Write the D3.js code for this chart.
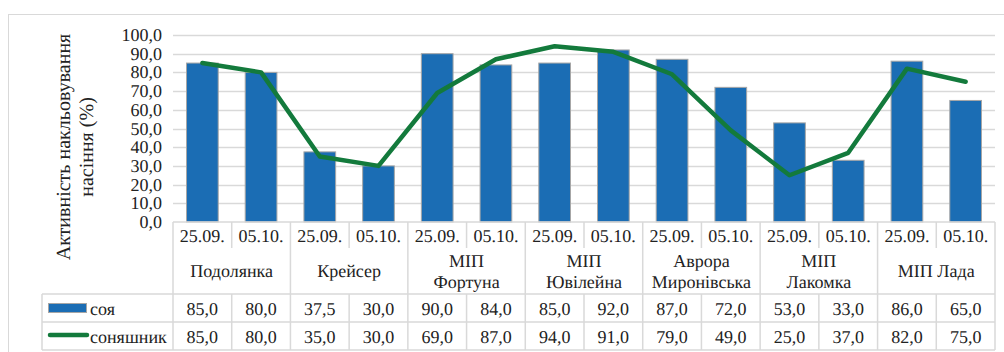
<!DOCTYPE html>
<html>
<head>
<meta charset="utf-8">
<script src="https://cdn.jsdelivr.net/npm/d3@7"></script>
<style>
  body { margin: 0; background: #fff; }
  text { text-rendering: geometricPrecision; }
</style>
</head>
<body>
<svg id="chart" width="1004" height="352"></svg>
<script>
// data
const groups = [["Подолянка"], ["Крейсер"], ["МІП", "Фортуна"], ["МІП", "Ювілейна"],
                ["Аврора", "Миронівська"], ["МІП", "Лакомка"], ["МІП Лада"]];
const dates = ["25.09.", "05.10."];
const soy = [85, 80, 37.5, 30, 90, 84, 85, 92, 87, 72, 53, 33, 86, 65];
const sunflower = [85, 80, 35, 30, 69, 87, 94, 91, 79, 49, 25, 37, 82, 75];
const seriesNames = ["соя", "соняшник"];
const yTicks = [0, 10, 20, 30, 40, 50, 60, 70, 80, 90, 100];

const barColor = "#1b6db4";
const lineColor = "#137a3c";
const gridColor = "#d9d9d9";
const font = "'Liberation Serif'";

const plotLeft = 173, plotRight = 995, plotTop = 35, plotBottom = 222;
const dateRowH = 26, catRowH = 46, legRowH = 28, tableLeft = 42;

const svg = d3.select("#chart");
const fmt = v => d3.format(".1f")(v).replace(".", ",");

// category index per point
const idx = d3.range(soy.length);
const x = d3.scaleBand().domain(idx).range([plotLeft, plotRight]).paddingInner(0.46).paddingOuter(0.23);
const step = x.step();
const cx = i => x(i) + x.bandwidth() / 2;
const y = d3.scaleLinear().domain([0, 100]).range([plotBottom, plotTop]);

// outer chart border
svg.append("rect").attr("x", 8.5).attr("y", 14.5).attr("width", 1000).attr("height", 400)
    .attr("fill", "none").attr("stroke", gridColor);

// gridlines
svg.append("g").selectAll("line").data(yTicks.slice(1)).join("line")
    .attr("x1", plotLeft).attr("x2", plotRight)
    .attr("y1", d => Math.round(y(d)) + 0.5).attr("y2", d => Math.round(y(d)) + 0.5)
    .attr("stroke", gridColor).attr("stroke-width", 1.5);

// y axis labels
svg.append("g").selectAll("text").data(yTicks).join("text")
    .attr("x", 162).attr("y", d => y(d))
    .attr("text-anchor", "end").attr("dominant-baseline", "central")
    .attr("font-family", font).attr("fill", "#222")
    .attr("font-size", 18).text(fmt);

// y title
const yt = svg.append("text")
    .attr("transform", "translate(70,147) rotate(-90)")
    .attr("font-family", font).attr("fill", "#222")
    .attr("text-anchor", "middle").attr("font-size", 20);
yt.append("tspan").attr("x", 0).attr("dy", 0).text("Активність накльовування");
yt.append("tspan").attr("x", 0).attr("dy", 23).text("насіння (%)");

// bars
svg.append("g").selectAll("rect").data(soy).join("rect")
    .attr("x", (d, i) => x(i)).attr("width", x.bandwidth())
    .attr("y", d => y(d)).attr("height", d => y(0) - y(d))
    .attr("fill", barColor).attr("stroke", "#a6a6a6").attr("stroke-width", 1);

// line
const line = d3.line().x((d, i) => cx(i)).y(d => y(d));
svg.append("path").datum(sunflower)
    .attr("d", line).attr("fill", "none")
    .attr("stroke", lineColor).attr("stroke-width", 4.5)
    .attr("stroke-linejoin", "round").attr("stroke-linecap", "round");

// table lines
const tbl = svg.append("g").attr("stroke", gridColor).attr("stroke-width", 1.5);
const catBottom = plotBottom + dateRowH + catRowH;
const tableBottom = catBottom + 2 * legRowH;
tbl.append("line").attr("x1", plotLeft).attr("x2", plotRight).attr("y1", plotBottom).attr("y2", plotBottom);
tbl.append("line").attr("x1", tableLeft).attr("x2", plotRight).attr("y1", catBottom).attr("y2", catBottom);
tbl.append("line").attr("x1", tableLeft).attr("x2", plotRight).attr("y1", catBottom + legRowH).attr("y2", catBottom + legRowH);
tbl.append("line").attr("x1", tableLeft).attr("x2", plotRight).attr("y1", tableBottom).attr("y2", tableBottom);
tbl.append("line").attr("x1", tableLeft).attr("x2", tableLeft).attr("y1", catBottom).attr("y2", tableBottom);
d3.range(soy.length + 1).forEach(i => {
  const xx = plotLeft + i * step;
  const isGroup = i % 2 === 0;
  tbl.append("line").attr("x1", xx).attr("x2", xx)
    .attr("y1", plotBottom).attr("y2", isGroup ? tableBottom : plotBottom + dateRowH);
  if (!isGroup) tbl.append("line").attr("x1", xx).attr("x2", xx)
    .attr("y1", catBottom).attr("y2", tableBottom);
});

// date labels
svg.append("g").selectAll("text").data(idx).join("text")
    .attr("x", i => cx(i)).attr("y", plotBottom + dateRowH / 2 + 1)
    .attr("text-anchor", "middle").attr("dominant-baseline", "central")
    .attr("font-family", font).attr("fill", "#222")
    .attr("font-size", 18).text(i => dates[i % 2]);

// group labels
groups.forEach((g, gi) => {
  const gx = plotLeft + (gi * 2 + 1) * step;
  const gy = plotBottom + dateRowH + catRowH / 2;
  const t = svg.append("text").attr("text-anchor", "middle").attr("font-size", 18)
      .attr("font-family", font).attr("fill", "#222")
      .attr("dominant-baseline", "central");
  g.forEach((s, k) => {
    t.append("tspan").attr("x", gx).attr("y", gy + (k - (g.length - 1) / 2) * 21).text(s);
  });
});

// data table values
[soy, sunflower].forEach((arr, r) => {
  svg.append("g").selectAll("text").data(arr).join("text")
    .attr("x", (d, i) => cx(i)).attr("y", catBottom + r * legRowH + legRowH / 2 + 1)
    .attr("text-anchor", "middle").attr("dominant-baseline", "central")
    .attr("font-family", font).attr("fill", "#222")
    .attr("font-size", 18).text(fmt);
});

// legend keys
const lg = svg.append("g");
lg.append("rect").attr("x", 48.5).attr("y", catBottom + 9.5).attr("width", 38).attr("height", 9)
    .attr("fill", barColor).attr("stroke", "#a6a6a6");
lg.append("line").attr("x1", 50).attr("x2", 87)
    .attr("y1", catBottom + legRowH + 13).attr("y2", catBottom + legRowH + 13)
    .attr("stroke", lineColor).attr("stroke-width", 4.5).attr("stroke-linecap", "round");
seriesNames.forEach((s, r) => {
  lg.append("text").attr("x", 90).attr("y", catBottom + r * legRowH + legRowH / 2 + 1)
    .attr("font-family", font).attr("fill", "#222")
    .attr("dominant-baseline", "central").attr("font-size", 18).text(s);
});
</script>
</body>
</html>
